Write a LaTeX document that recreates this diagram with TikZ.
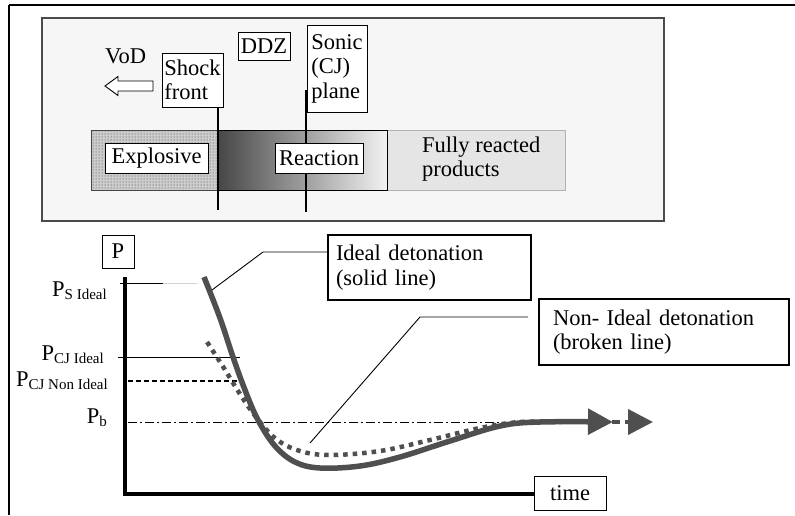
\documentclass[tikz,border=0pt]{standalone}
\usepackage{fontspec}
\setmainfont{Liberation Serif}
\usetikzlibrary{patterns,arrows.meta,calc}
\newcommand\bigf{\fontsize{22.5}{24.5}\selectfont}
\newcommand\subf{\fontsize{15}{15}\selectfont}
\definecolor{curvec}{HTML}{4F4F4F}
\definecolor{panelc}{HTML}{F6F6F6}
\definecolor{framec}{HTML}{4A4A4A}
\begin{document}
\begin{tikzpicture}[x=1pt,y=-1pt,
  box/.style={draw=black,line width=0.9pt,fill=white,inner sep=0pt,font=\bigf,align=left},
  plain/.style={inner sep=0pt,font=\bigf},
  curveline/.style={draw=curvec,line width=5.5pt},
  dotline/.style={draw=curvec,line width=4.5pt,dash pattern=on 4.5pt off 5pt},
  leader/.style={draw=black,line width=0.9pt},
  reftip/.style={-{Triangle[length=25pt,width=25pt]}}
]
\useasboundingbox (0,0) rectangle (795,515);
\fill[white] (0,0) rectangle (795,515);

% outer frame (top and left edges visible)
\draw[line width=2pt] (9,5) -- (795,5);
\draw[line width=1.5pt] (9,5) -- (9,515);

% top panel
\draw[draw=framec,fill=panelc,line width=1.2pt] (42,18) rectangle (664,221);

% bar: explosive / reaction / fully reacted
\fill[gray!40] (91,130) rectangle (218,190);
\fill[pattern=dots,pattern color=gray!45!black] (91,130) rectangle (218,190);
\draw[gray!55!black,line width=0.8pt] (91,130) rectangle (218,190);
\shade[left color=curvec!90!black,right color=gray!10] (218,130) rectangle (387,190);
\fill[gray!20] (387,130) rectangle (565,190);
\draw[gray!60,line width=0.8pt] (387,130) rectangle (565,190);
\draw[black,line width=0.8pt] (218,130) rectangle (387,190);

\node[box,minimum width=103pt,minimum height=30pt] (explosive) at (156.5,158) {Explosive};
\node[plain,anchor=west,align=left] (products) at (422,159) {Fully reacted\\products};

% labels above bar
\node[plain,anchor=base west] (vod) at (105,63) {VoD};
\draw[line width=0.9pt,fill=white] (105,86) -- (118,76.5) -- (118,81) -- (153,81) -- (153,91) -- (118,91) -- (118,95.5) -- cycle;

\node[box,minimum width=61pt,minimum height=54pt] (shock) at (192.5,80) {Shock\\front};
\node[box,minimum width=52pt,minimum height=28pt] (ddz) at (264,46) {DDZ};
\node[box,minimum width=60pt,minimum height=87pt] (sonic) at (337,68.5) {Sonic\\(CJ)\\plane};

\coordinate (shockbot) at (218,210);
\coordinate (sonictop) at (306,90);
\coordinate (sonicbot) at (306,212);
\draw[line width=1.2pt] (shock.south -| shockbot) -- (shockbot);
\draw[line width=2.5pt] (sonictop) -- (sonicbot);

\node[box,minimum width=88pt,minimum height=30pt] (reaction) at (319,158) {Reaction};

% lower plot
\node[box,minimum width=32pt,minimum height=33pt] (P) at (118,251.5) {P};
\coordinate (ytop) at (125,277);
\coordinate (origin) at (125,494);
\coordinate (xend) at (534,494);
\draw[line width=3.5pt] (ytop) -- (origin) -- (xend);
\node[box,minimum width=72pt,minimum height=34pt] (time) at (570,493) {time};

\node[plain,anchor=base east] (ps) at (107,296) {P\raisebox{-3pt}{\subf S Ideal}};
\node[plain,anchor=base east] (pcj) at (104,360) {P\raisebox{-3pt}{\subf CJ Ideal}};
\node[plain,anchor=base east] (pcjn) at (108,386) {P\raisebox{-3pt}{\subf CJ Non Ideal}};
\node[plain,anchor=base east] (pb) at (107,423) {P\raisebox{-3pt}{\subf b}};

\draw[line width=0.7pt] (120,283) -- (163,283);
\draw[gray!35,line width=0.7pt] (163,283) -- (197,283);
\draw[line width=0.7pt] (118,357) -- (240,357);
\draw[line width=1.2pt,dash pattern=on 5pt off 3pt] (128,381) -- (242,381);
\draw[line width=0.6pt,dash pattern=on 9pt off 3pt on 2pt off 3pt] (128,422) -- (578,422);

% broken (non-ideal) curve
\draw[curvec,line width=4pt,dash pattern=on 8pt off 5pt,reftip] (560,422) -- (653,422);
\draw[dotline] plot[smooth,tension=0.6] coordinates {(207,342) (222,365) (240,394) (256,417) (276,439) (300,451) (330,455) (380,451) (430,440) (480,428) (520,422) (562,422)};
% solid (ideal) curve
\draw[curveline,reftip] plot[smooth,tension=0.6] coordinates {(204,277) (220,318) (233,357) (245,390) (258,420) (275,446) (295,462) (320,468) (360,466) (400,457) (450,441) (500,426) (540,422) (613,422)};

% legend boxes
\node[box,line width=1.1pt,inner xsep=8pt,text width=187pt,minimum height=65pt] (ideal) at (429.5,267.5) {Ideal detonation\\(solid line)};
\node[box,line width=1.1pt,inner xsep=14pt,text width=222pt,minimum height=66pt] (nonideal) at (664,332) {Non- Ideal detonation\\(broken line)};

\coordinate (ik) at (263,252);
\coordinate (ie) at (212,290);
\draw[leader] (ideal.west |- ik) -- (ik) -- (ie);
\coordinate (ns) at (528,317);
\coordinate (nk) at (420,317);
\coordinate (ne) at (310,443);
\draw[leader] (ns) -- (nk) -- (ne);
\end{tikzpicture}
\end{document}
